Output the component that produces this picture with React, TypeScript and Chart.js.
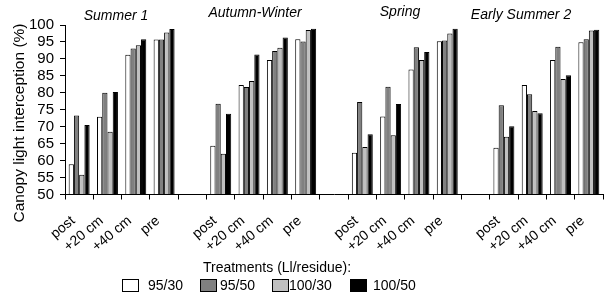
import React, { useEffect, useRef } from "react";
import { Chart, registerables } from "chart.js";

Chart.register(...registerables);

// ---- data ----
const seasons = ["Summer 1", "Autumn-Winter", "Spring", "Early Summer 2"];
const stages = ["post", "+20 cm", "+40 cm", "pre"];
const treatmentNames = ["95/30", "95/50", "100/30", "100/50"];

// values per treatment: 4 seasons x 4 stages (post, +20, +40, pre)
const t95_30 = [58.9, 72.9, 91.2, 95.7, 64.4, 82.3, 89.7, 95.8, 62.3, 73.0, 86.9, 95.2, 63.8, 82.3, 89.7, 94.9];
const t95_50 = [73.3, 80.0, 93.1, 95.7, 76.8, 81.7, 92.3, 95.1, 77.3, 81.8, 93.4, 95.4, 76.3, 79.6, 93.6, 95.8];
const t100_30 = [55.8, 68.5, 94.0, 97.8, 62.0, 83.5, 93.3, 98.5, 64.0, 67.5, 89.7, 97.5, 67.0, 74.6, 84.1, 98.4];
const t100_50 = [70.5, 80.2, 95.8, 98.8, 73.8, 91.3, 96.3, 98.9, 67.8, 76.7, 92.0, 98.9, 70.1, 74.0, 85.2, 98.6];

const yTitle = "Canopy light interception (%)";
const legendTitle = "Treatments (Ll/residue):";

// ---- styles / layout ----
const FONT = 'Arial, "Liberation Sans", sans-serif';
const fillColors = ["#ffffff", "#808080", "#c0c0c0", "#000000"];
const seasonTitlePos = [
  [116, 16],
  [255, 13],
  [400, 12],
  [521, 15],
];
const legendBoxX = [122, 200, 272, 350];
const legendTextX = [148, 220, 289, 373];

function buildLabels() {
  const out: string[] = [];
  seasons.forEach((_, i) => {
    stages.forEach((s) => out.push(s));
    if (i < seasons.length - 1) out.push("");
  });
  return out;
}

function buildSeries(vals: number[]) {
  const out: (number | null)[] = [];
  seasons.forEach((_, i) => {
    for (let j = 0; j < stages.length; j++) out.push(vals[i * stages.length + j]);
    if (i < seasons.length - 1) out.push(null);
  });
  return out;
}

const annotations = {
  id: "annotations",
  afterDraw(chart: any) {
    const ctx = chart.ctx;
    ctx.save();
    ctx.fillStyle = "#000";
    // season titles
    ctx.font = `italic 14px ${FONT}`;
    ctx.textAlign = "center";
    ctx.textBaseline = "middle";
    seasons.forEach((s, i) => {
      ctx.fillText(s, seasonTitlePos[i][0], seasonTitlePos[i][1]);
    });
    // y title
    ctx.save();
    ctx.translate(20, 123);
    ctx.rotate(-Math.PI / 2);
    ctx.font = `15.5px ${FONT}`;
    ctx.fillText(yTitle, 0, 0);
    ctx.restore();
    // legend
    ctx.font = `14px ${FONT}`;
    ctx.fillText(legendTitle, 277, 268);
    ctx.textAlign = "left";
    treatmentNames.forEach((n, i) => {
      ctx.fillStyle = fillColors[i];
      ctx.fillRect(legendBoxX[i], 279, 17, 13);
      ctx.strokeStyle = "#000";
      ctx.lineWidth = 1;
      ctx.strokeRect(legendBoxX[i] + 0.5, 279.5, 16, 12);
      ctx.fillStyle = "#000";
      ctx.fillText(n, legendTextX[i], 286);
    });
    ctx.restore();
  },
};

export default function App() {
  const ref = useRef<HTMLCanvasElement>(null);
  useEffect(() => {
    if (!ref.current) return;
    Chart.defaults.font.family = FONT;
    Chart.defaults.color = "#000";
    const series = [t95_30, t95_50, t100_30, t100_50];
    const chart = new Chart(ref.current, {
      type: "bar",
      data: {
        labels: buildLabels(),
        datasets: series.map((v, i) => ({
          label: treatmentNames[i],
          data: buildSeries(v),
          backgroundColor: fillColors[i],
          borderColor: "#000",
          borderWidth: 1,
          base: 50,
          categoryPercentage: 0.74,
          barPercentage: 1,
        })),
      },
      options: {
        responsive: false,
        animation: false,
        layout: { padding: { left: 0, top: 25, right: 13, bottom: 0 } },
        plugins: { legend: { display: false }, tooltip: { enabled: false } },
        scales: {
          x: {
            grid: { offset: true, drawOnChartArea: false, tickLength: 5, color: "#000" },
            border: { display: true, color: "#000" },
            ticks: {
              autoSkip: false,
              maxRotation: 40,
              minRotation: 40,
              font: { size: 14 },
              color: "#000",
              padding: 13,
              labelOffset: -6,
            },
            afterFit: (s: any) => {
              s.height = 98.5;
            },
          },
          y: {
            min: 50,
            max: 100,
            grid: { drawOnChartArea: false, tickLength: 5, color: "#000" },
            border: { display: true, color: "#000" },
            ticks: { stepSize: 5, autoSkip: false, font: { size: 15 }, color: "#000", padding: 6 },
            afterFit: (s: any) => {
              s.width = 65;
            },
          },
        },
      },
      plugins: [annotations],
    });
    return () => chart.destroy();
  }, []);
  return (
    <div style={{ position: "fixed", left: 0, top: 0, width: 616, height: 293, background: "#fff" }}>
      <canvas ref={ref} width={616} height={293} />
    </div>
  );
}
